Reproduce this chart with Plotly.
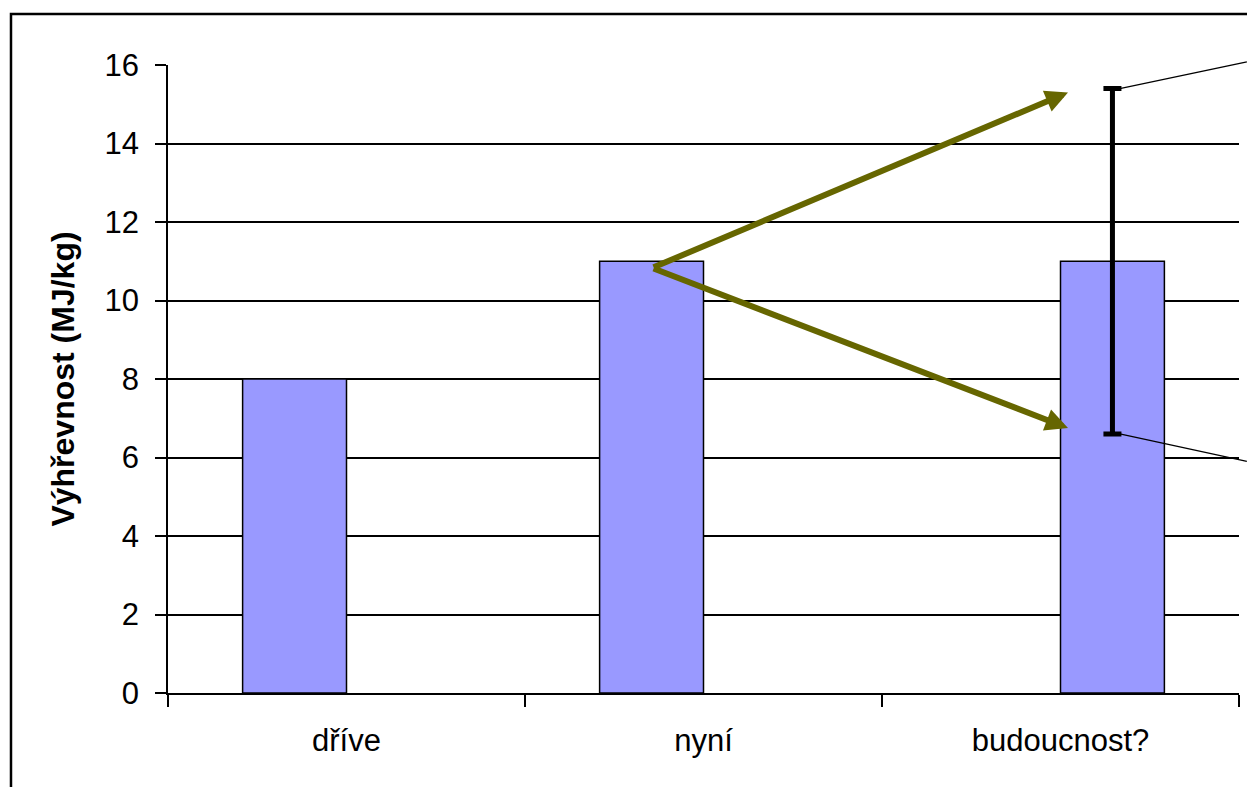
import plotly.graph_objects as go

# categories and values
categories = ["dříve", "nyní", "budoucnost?"]
past_cats = ["dříve", "nyní"]
past_vals = [8, 11]
future_cats = ["budoucnost?"]
future_vals = [11]
future_err_plus = [4.4]
future_err_minus = [4.4]

# trend arrows (category index, value)
arrow_start = (0.856, 10.83)
arrow_ends = [(2.021, 15.3), (2.021, 6.75)]

# connector lines leaving the error bar caps toward the right edge
connector_from_x = 2.166
connector_to_x = 2.522
connector_levels = [(15.4, 16.08), (6.6, 5.9)]

Y_MAX = 16
BAR_W = 0.291
BAR_COLOR = "#9999FF"
ARROW_COLOR = "#666600"
FONT = "Liberation Sans, Arial, sans-serif"

fig = go.Figure()
# earlier values sit left of the category centre, the future estimate right of it
fig.add_trace(go.Bar(
    x=past_cats, y=past_vals, width=BAR_W, offset=-BAR_W,
    marker=dict(color=BAR_COLOR, line=dict(color="black", width=1.5)),
    showlegend=False, hoverinfo="skip",
))
fig.add_trace(go.Bar(
    x=future_cats, y=future_vals, width=BAR_W, offset=0,
    marker=dict(color=BAR_COLOR, line=dict(color="black", width=1.5)),
    error_y=dict(type="data", symmetric=False, array=future_err_plus, arrayminus=future_err_minus,
                 color="black", thickness=5, width=9),
    showlegend=False, hoverinfo="skip",
))

for ex, ey in arrow_ends:
    fig.add_annotation(
        x=ex, y=ey, ax=arrow_start[0], ay=arrow_start[1],
        xref="x", yref="y", axref="x", ayref="y",
        showarrow=True, arrowhead=2, arrowsize=0.75, arrowwidth=6,
        arrowcolor=ARROW_COLOR, standoff=0, text="",
    )

def to_paper_x(idx):
    return (idx + 0.5) / len(categories)

for y0, y1 in connector_levels:
    fig.add_shape(
        type="line", xref="paper", yref="paper",
        x0=to_paper_x(connector_from_x), y0=y0 / Y_MAX,
        x1=to_paper_x(connector_to_x), y1=y1 / Y_MAX,
        line=dict(color="black", width=1.3),
    )

# outer chart frame (continues past the right and bottom edges)
fig.add_shape(
    type="rect", xref="paper", yref="paper",
    x0=-0.1466, y0=-0.3, x1=1.2, y1=1.0812,
    line=dict(color="black", width=2.5), fillcolor="rgba(0,0,0,0)", layer="below",
)

fig.update_layout(
    width=1247, height=787,
    margin=dict(l=168, r=8, t=65, b=94),
    paper_bgcolor="white", plot_bgcolor="white",
    barmode="overlay",
    font=dict(family=FONT, size=31, color="black"),
)
fig.update_xaxes(
    type="category", categoryorder="array", categoryarray=categories,
    range=[-0.5, 2.5], tickson="boundaries",
    showline=True, linecolor="black", linewidth=1.5,
    ticks="outside", ticklen=12, tickwidth=1.5, tickcolor="black",
    showgrid=False, ticklabelstandoff=19,
    tickfont=dict(family=FONT, size=31, color="black"),
)
fig.update_yaxes(
    range=[0, Y_MAX], dtick=2, tick0=0,
    showline=True, linecolor="black", linewidth=1.5,
    ticks="outside", ticklen=11, tickwidth=1.5, tickcolor="black",
    showgrid=True, gridcolor="black", gridwidth=1.6, zeroline=False,
    ticklabelstandoff=10,
    tickfont=dict(family=FONT, size=31, color="black"),
    title=dict(text="<b>Výhřevnost (MJ/kg)</b>", font=dict(family=FONT, size=32, color="black"), standoff=20),
)

fig.write_html("out.html")
